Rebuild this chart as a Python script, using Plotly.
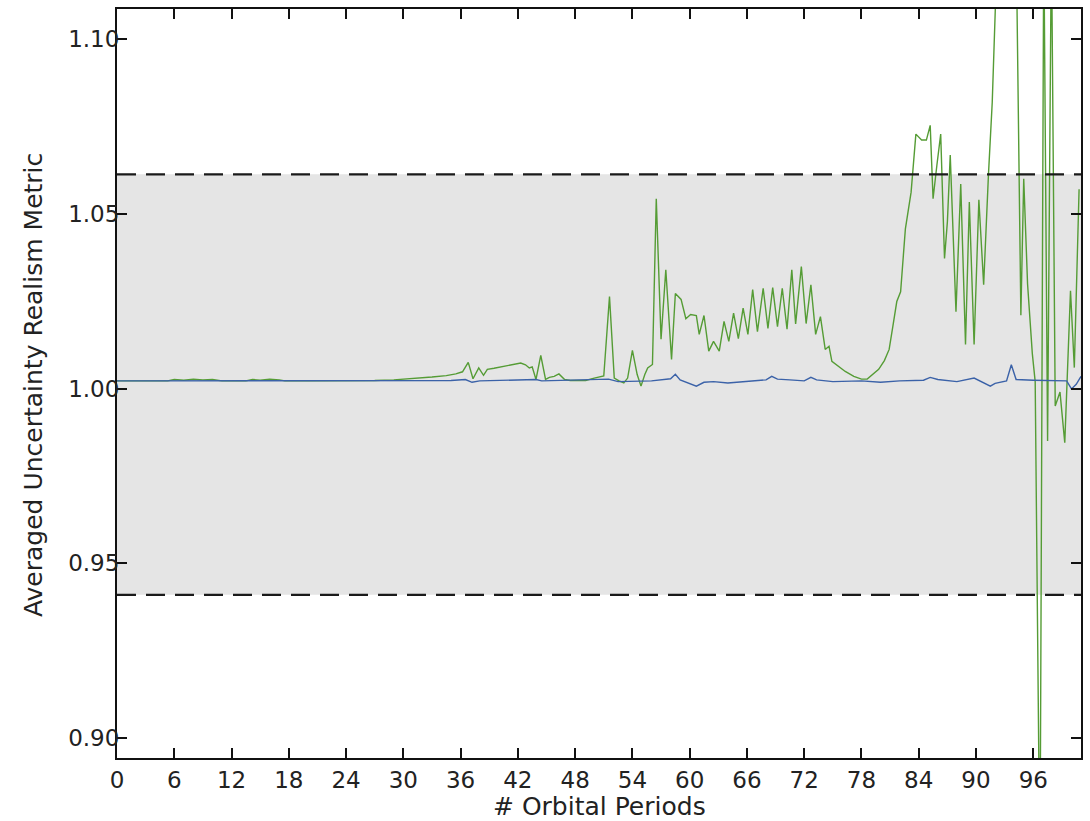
import plotly.graph_objects as go

# ---- data ----
green_x = [0, 3, 5.3, 6, 7, 8, 9, 10, 11, 13.5, 14.2, 15, 16, 17, 17.6, 20, 24, 27, 29, 31, 33,
           34.5, 35.5, 36.2, 36.8, 37.3, 37.9, 38.4, 38.8, 39.5, 40.1, 41.4, 42.3, 42.8, 43.2, 43.5,
           43.9, 44.4, 44.9, 45.3, 45.8, 46.3, 46.9, 47.5, 49.1, 50.0, 50.7, 51.0, 51.6, 52.1, 52.6,
           53.1, 53.5, 54.0, 54.5, 54.9, 55.3, 55.6, 56.1, 56.5, 57.0, 57.5, 58.1, 58.5, 59.1, 59.6,
           60.1, 60.7, 61.0, 61.5, 62.0, 62.5, 63.1, 63.6, 64.1, 64.6, 65.1, 65.6, 66.1, 66.6, 67.1,
           67.7, 68.2, 68.7, 69.2, 69.7, 70.2, 70.7, 71.1, 71.7, 72.2, 72.7, 73.2, 73.7, 74.2, 74.6,
           74.9, 75.5, 76.3, 77.2, 78.0, 78.6, 79.2, 79.8, 80.4, 80.9, 81.3, 81.7, 82.1, 82.6, 83.2,
           83.5, 83.7, 84.3, 84.8, 85.2, 85.5, 85.9, 86.3, 86.7, 87.0, 87.3, 87.9, 88.4, 88.9, 89.3,
           89.8, 90.3, 90.8, 91.3, 91.7, 92.1, 93.0, 94.2, 94.7, 95.0, 95.4, 95.9, 96.2, 96.7, 97.1,
           97.5, 97.9, 98.3, 98.8, 99.3, 99.9, 100.3, 100.8]
green_y = [1.0022, 1.0022, 1.0022, 1.0026, 1.0024, 1.0027, 1.0025, 1.0026, 1.0022, 1.0022, 1.0026,
           1.0024, 1.0027, 1.0025, 1.0022, 1.0022, 1.0022, 1.0023, 1.0025, 1.0028, 1.0033,
           1.0037, 1.0042, 1.0048, 1.0075, 1.0028, 1.0059, 1.0038, 1.0055, 1.0058, 1.0061, 1.0067,
           1.0073, 1.0068, 1.0059, 1.0062, 1.0026, 1.0095, 1.0026, 1.0032, 1.0035, 1.0042, 1.0026,
           1.0023, 1.0023, 1.0030, 1.0035, 1.0036, 1.0263, 1.0030, 1.0022, 1.0016, 1.0030, 1.0109,
           1.0040, 1.0007, 1.0040, 1.0059, 1.0069, 1.0543, 1.0141, 1.0340, 1.0083, 1.0272, 1.0255,
           1.0200, 1.0212, 1.0209, 1.0155, 1.0209, 1.0107, 1.0135, 1.0107, 1.0192, 1.0135, 1.0216,
           1.0143, 1.0230, 1.0155, 1.0283, 1.0163, 1.0287, 1.0172, 1.0289, 1.0177, 1.0287, 1.0170,
           1.0340, 1.0185, 1.0349, 1.0186, 1.0297, 1.0155, 1.0206, 1.0112, 1.0121, 1.0078, 1.0065,
           1.0049, 1.0035, 1.0027, 1.0027, 1.0040, 1.0055, 1.0080, 1.0112, 1.0180, 1.0249, 1.0277,
           1.0457, 1.0562, 1.0676, 1.0728, 1.0711, 1.0711, 1.0753, 1.0543, 1.0639, 1.0728, 1.0372,
           1.0477, 1.0668, 1.0220, 1.0585, 1.0126, 1.0534, 1.0126, 1.0540, 1.0297, 1.0610, 1.0819,
           1.1150, 1.1400, 1.1300, 1.0210, 1.0600, 1.0300, 1.0100, 1.0020, 0.8600, 1.1300, 0.9850,
           1.1300, 0.9950, 0.9990, 0.9845, 1.0280, 1.0060, 1.0570]

blue_x = [0, 10, 20, 30, 35, 36.5, 37.2, 38, 43.9, 44.5, 51.5, 52.5, 56, 58.0, 58.5, 59.0, 60.7,
          61.5, 62.5, 64, 66, 68.0, 68.6, 69.2, 70.5, 72.0, 72.7, 73.3, 75, 78, 80, 82, 84.5, 85.2,
          86, 88, 89.8, 90.5, 91.5, 92.0, 93.2, 93.7, 94.2, 96, 98, 99.5, 100.0, 100.5, 101]
blue_y = [1.0022, 1.0022, 1.0022, 1.0023, 1.0023, 1.0026, 1.0018, 1.0022, 1.0026, 1.0022, 1.0027,
          1.0020, 1.0022, 1.0028, 1.0041, 1.0025, 1.0007, 1.0018, 1.0020, 1.0016, 1.0020, 1.0025,
          1.0035, 1.0027, 1.0025, 1.0022, 1.0032, 1.0025, 1.0020, 1.0022, 1.0018, 1.0022, 1.0024,
          1.0032, 1.0026, 1.0020, 1.0030, 1.0020, 1.0007, 1.0015, 1.0022, 1.0068, 1.0026, 1.0024,
          1.0024, 1.0022, 0.9999, 1.0012, 1.0035]

band_low = 0.941
band_high = 1.0613
x_ticks = [0, 6, 12, 18, 24, 30, 36, 42, 48, 54, 60, 66, 72, 78, 84, 90, 96]
y_ticks = [0.90, 0.95, 1.00, 1.05, 1.10]
x_range = [0, 101]
y_range = [0.8943, 1.1086]

FONT = "DejaVu Sans"

fig = go.Figure()
fig.add_trace(go.Scatter(x=green_x, y=green_y, mode="lines",
                         line=dict(color="#559c35", width=1.4), showlegend=False))
fig.add_trace(go.Scatter(x=blue_x, y=blue_y, mode="lines",
                         line=dict(color="#3b62a8", width=1.4), showlegend=False))

# shaded band and dashed bounds
fig.add_shape(type="rect", xref="x", yref="y", x0=x_range[0], x1=x_range[1],
              y0=band_low, y1=band_high, fillcolor="#e5e5e5", line=dict(width=0), layer="below")
for yv in (band_low, band_high):
    fig.add_shape(type="line", xref="x", yref="y", x0=x_range[0], x1=x_range[1], y0=yv, y1=yv,
                  line=dict(color="#1a1a1a", width=2.2, dash="19px,10px"), layer="above")

axis_common = dict(showline=True, linecolor="#111111", linewidth=2, mirror="ticks",
                   ticks="inside", tickcolor="#111111", tickwidth=1.8, ticklen=10,
                   showgrid=False, zeroline=False,
                   tickfont=dict(family=FONT, size=23, color="#222222"))

fig.update_layout(
    width=1090, height=821,
    margin=dict(l=117, r=8, t=7, b=63),
    paper_bgcolor="white", plot_bgcolor="white",
    xaxis=dict(range=x_range, tickvals=x_ticks, ticktext=[str(v) for v in x_ticks], **axis_common),
    yaxis=dict(range=y_range, tickvals=y_ticks, ticktext=[f"{v:.2f}" for v in y_ticks],
               ticklabelstandoff=-9, **axis_common),
    annotations=[
        dict(text="# Orbital Periods", xref="paper", yref="paper", x=0.5, y=-(807 - 758) / 751,
             xanchor="center", yanchor="middle", showarrow=False,
             font=dict(family=FONT, size=25, color="#222222")),
        dict(text="Averaged Uncertainty Realism Metric", xref="paper", yref="paper",
             x=-(117 - 34) / 965, y=(758 - 384) / 751, textangle=-90,
             xanchor="center", yanchor="middle", showarrow=False,
             font=dict(family=FONT, size=25, color="#222222")),
    ],
)

fig.write_html("out.html")
